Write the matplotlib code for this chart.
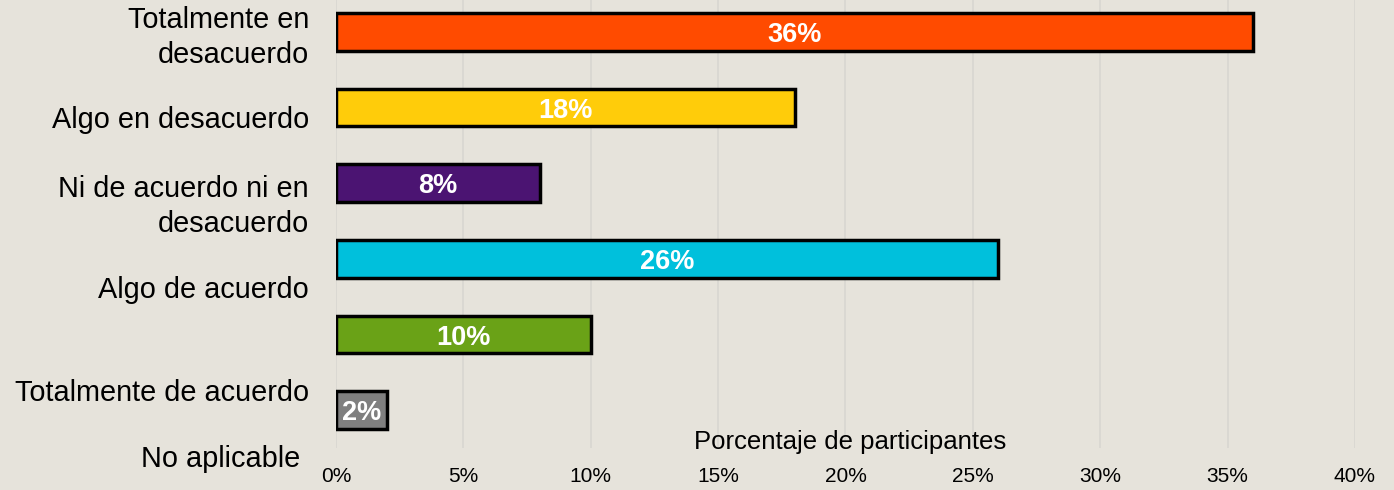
import matplotlib.pyplot as plt
import matplotlib.transforms as mtransforms

# survey answers, top to bottom
categories = ["Totalmente en\ndesacuerdo", "Algo en desacuerdo", "Ni de acuerdo ni en\ndesacuerdo",
              "Algo de acuerdo", "Totalmente de acuerdo", "No aplicable"]
values = [36, 18, 8, 26, 10, 2]
bar_colors = ["#FF4B00", "#FFCC0A", "#4B1472", "#00C0DC", "#6AA217", "#7F7F7F"]
# category labels drift down relative to the bars in the original
label_pos = [0.08, 1.17, 2.31, 3.41, 4.77, 5.64]
xticks = [0, 5, 10, 15, 20, 25, 30, 35, 40]
xlabel = "Porcentaje de participantes"

plt.rcParams['font.family'] = ['Liberation Sans', 'DejaVu Sans']
bg = "#E6E3DB"

fig = plt.figure(figsize=(13.94, 4.9), dpi=100, facecolor=bg)
ax = fig.add_axes([336/1394, 42/490, 1019/1394, 454/490])
ax.set_facecolor(bg)

ypos = list(range(len(values)))
bars = ax.barh(ypos, values, height=0.5, color=bar_colors, edgecolor="black", linewidth=2.5, zorder=3)
for b, v in zip(bars, values):
    ax.text(b.get_x() + b.get_width()/2, b.get_y() + b.get_height()/2, f"{v}%",
            ha="center", va="center_baseline", color="white", fontsize=19.5, fontweight="bold", zorder=4)

ax.set_xlim(0, 40)
ax.set_ylim(5.5, -0.5)
ax.set_xticks(xticks)
ax.set_xticklabels([f"{t}%" for t in xticks], fontsize=15)
ax.tick_params(axis="x", length=0, pad=14)
ax.set_yticks([])
ax.grid(axis="x", color="#D9D7D2", linewidth=1.3, zorder=0)
for s in ax.spines.values():
    s.set_visible(False)

trans = mtransforms.blended_transform_factory(ax.transAxes, ax.transData)
for i, (lab, yp) in enumerate(zip(categories, label_pos)):
    off = -36 if i == len(categories) - 1 else -27
    ax.text(0, yp, lab, transform=trans + mtransforms.ScaledTranslation(off/100, 0, fig.dpi_scale_trans),
            ha="right", va="center", fontsize=20.8, multialignment="right", clip_on=False,
            linespacing=1.32)

ax.text(0.505, 0.013, xlabel, transform=ax.transAxes, ha="center", va="center", fontsize=18.5)

fig.savefig("out.png", dpi=100, facecolor=bg)
